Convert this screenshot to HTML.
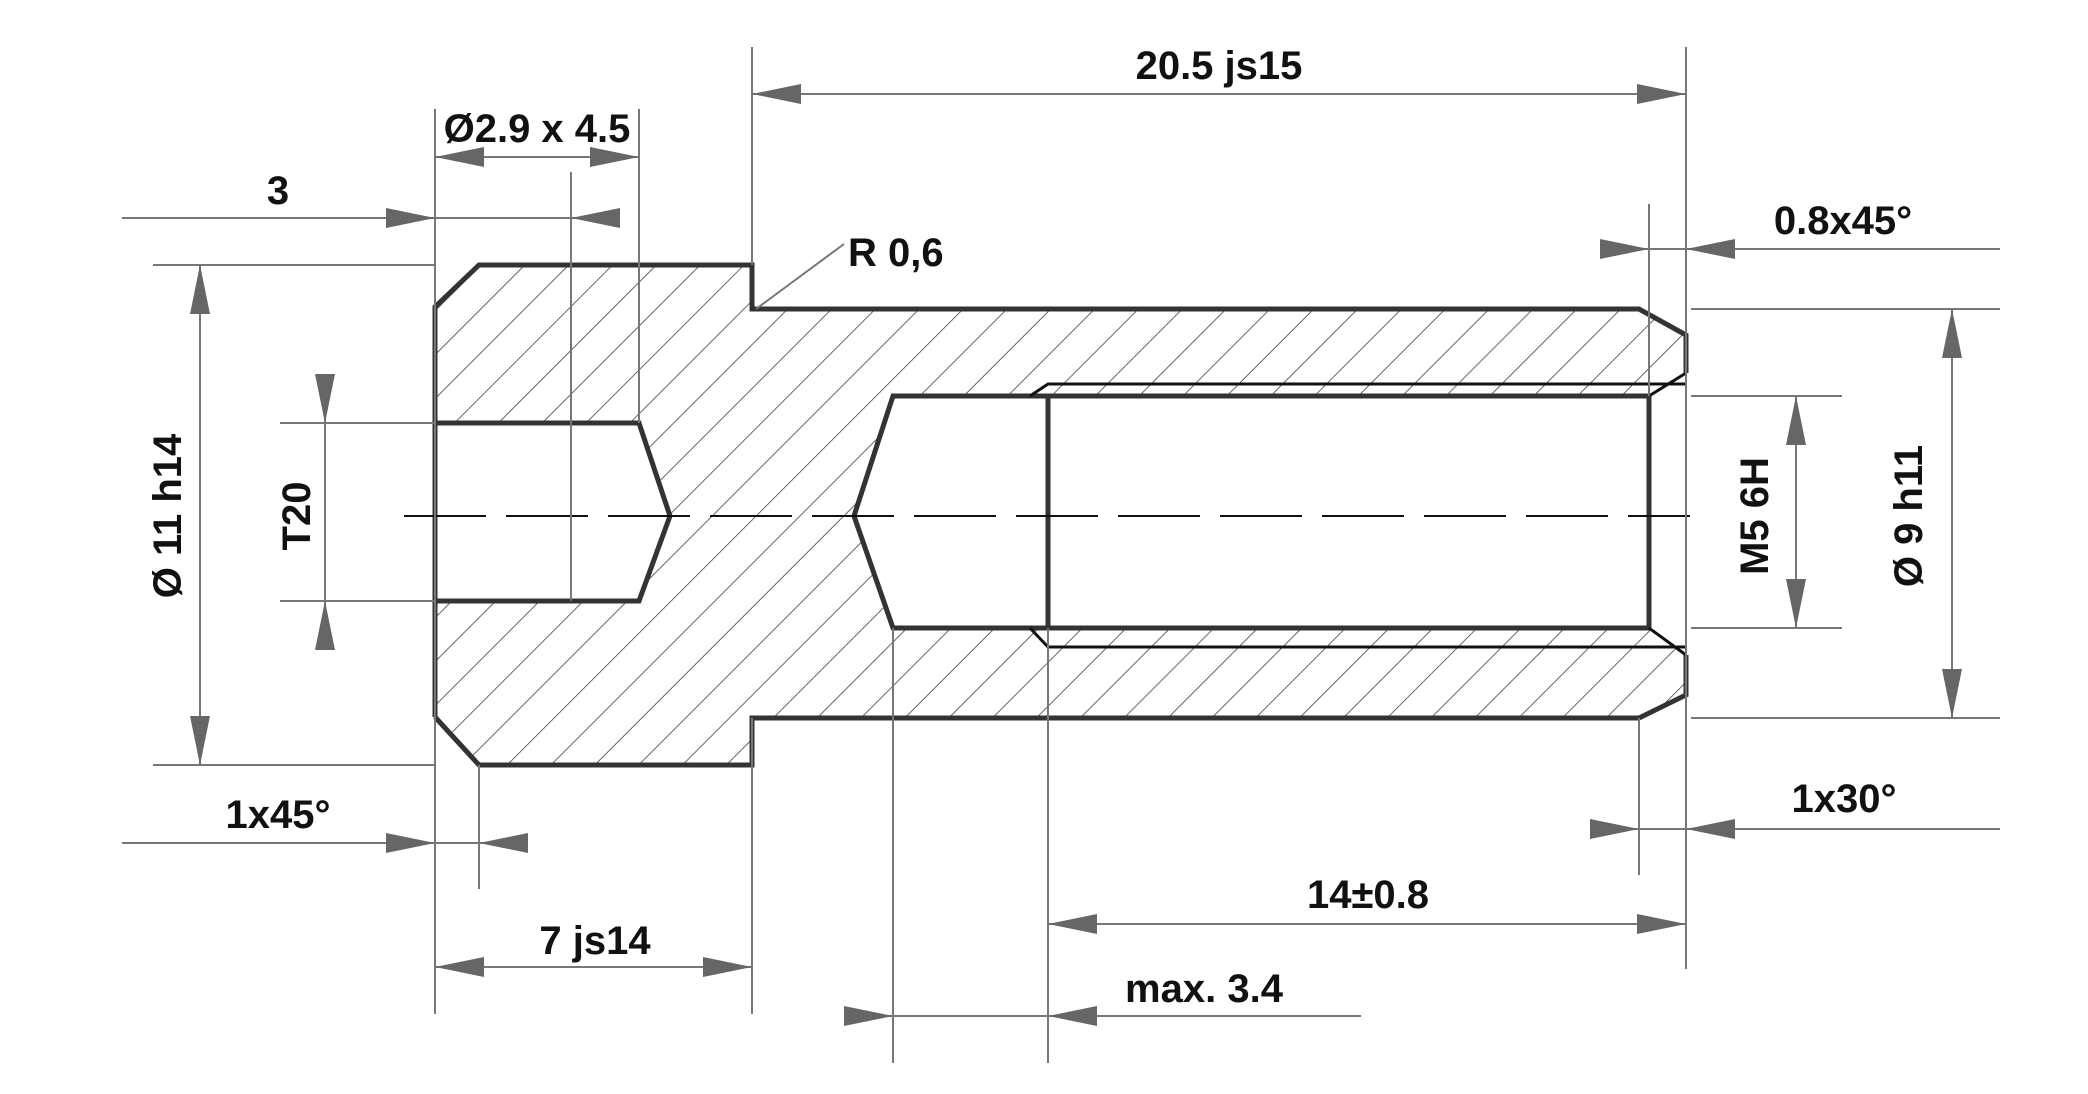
<!DOCTYPE html>
<html><head><meta charset="utf-8"><style>
html,body{margin:0;padding:0;background:#fff}
svg{display:block}
text{font-family:"Liberation Sans",Arial,sans-serif;font-weight:bold;font-size:40px;fill:#111}
</style></head><body>
<svg width="2088" height="1094" viewBox="0 0 2088 1094" xmlns="http://www.w3.org/2000/svg">
<defs>
<pattern id="h" patternUnits="userSpaceOnUse" width="31" height="31" patternTransform="rotate(45)">
<line x1="0" y1="0" x2="0" y2="31" stroke="#666" stroke-width="2"/>
</pattern>
<marker id="a" viewBox="0 0 49 20" refX="49" refY="10" markerWidth="49" markerHeight="20" markerUnits="userSpaceOnUse" orient="auto">
<path d="M0,0 L49,10 L0,20 z" fill="#666"/>
</marker>
</defs>

<path fill="url(#h)" fill-rule="evenodd" d="M435,307 L479,265 L752,265 L752,309 L1639,309 L1686,335 L1686,695 L1639,718 L752,718 L752,765 L479,765 L435,717 Z
M435,423 L639,423 L670,516 L639,601 L435,601 Z
M893,396 L1649,396 L1686,373 L1686,655 L1649,628 L893,628 L854,516 Z"/>

<g fill="none" stroke="#333" stroke-width="5" stroke-linejoin="miter">
<path d="M435,717 L435,307 L479,265 L752,265 L752,309 L1639,309 L1686,335 L1686,373"/>
<path d="M1686,655 L1686,695 L1639,718 L752,718 L752,765 L479,765 L435,717"/>
<path d="M435,423 L639,423 L670,516 L639,601 L435,601"/>
<path d="M1048,396 L893,396 L854,516 L893,628 L1649,628 L1649,396 L1048,396 L1048,628"/>
</g>
<g fill="none" stroke="#111" stroke-width="3">
<path d="M1030,396 L1048,384 L1686,384"/>
<path d="M1030,628 L1048,647 L1686,647"/>
<path d="M1649,396 L1686,373 M1649,628 L1686,655"/>
</g>
<line x1="404" y1="516" x2="1690" y2="516" stroke="#111" stroke-width="2" stroke-dasharray="82,20"/>

<g stroke="#777" stroke-width="2" fill="none">
<line x1="752" y1="47" x2="752" y2="265"/>
<line x1="1686" y1="47" x2="1686" y2="969"/>
<line x1="435" y1="109" x2="435" y2="1014"/>
<line x1="639" y1="109" x2="639" y2="423"/>
<line x1="571" y1="172" x2="571" y2="601"/>
<line x1="153" y1="265" x2="435" y2="265"/>
<line x1="153" y1="765" x2="435" y2="765"/>
<line x1="280" y1="423" x2="435" y2="423"/>
<line x1="280" y1="601" x2="435" y2="601"/>
<line x1="479" y1="765" x2="479" y2="889"/>
<line x1="752" y1="718" x2="752" y2="1014"/>
<line x1="893" y1="628" x2="893" y2="1063"/>
<line x1="1048" y1="628" x2="1048" y2="1063"/>
<line x1="1639" y1="718" x2="1639" y2="875"/>
<line x1="1649" y1="204" x2="1649" y2="396"/>
<line x1="1691" y1="309" x2="2000" y2="309"/>
<line x1="1691" y1="718" x2="2000" y2="718"/>
<line x1="1691" y1="396" x2="1842" y2="396"/>
<line x1="1691" y1="628" x2="1842" y2="628"/>
<line x1="756" y1="309" x2="844" y2="244"/>

<path d="M1220,94 L752,94" marker-end="url(#a)"/>
<path d="M1220,94 L1686,94" marker-end="url(#a)"/>
<path d="M537,157 L435,157" marker-end="url(#a)"/>
<path d="M537,157 L639,157" marker-end="url(#a)"/>
<path d="M122,218 L435,218" marker-end="url(#a)"/>
<path d="M619,218 L571,218" marker-end="url(#a)"/>
<line x1="435" y1="218" x2="571" y2="218"/>
<path d="M200,515 L200,265" marker-end="url(#a)"/>
<path d="M200,515 L200,765" marker-end="url(#a)"/>
<path d="M325,380 L325,423" marker-end="url(#a)"/>
<path d="M325,648 L325,601" marker-end="url(#a)"/>
<line x1="325" y1="423" x2="325" y2="601"/>
<path d="M122,843 L435,843" marker-end="url(#a)"/>
<path d="M527,843 L479,843" marker-end="url(#a)"/>
<line x1="435" y1="843" x2="479" y2="843"/>
<path d="M595,967 L435,967" marker-end="url(#a)"/>
<path d="M595,967 L752,967" marker-end="url(#a)"/>
<path d="M849,1016 L893,1016" marker-end="url(#a)"/>
<path d="M1361,1016 L1048,1016" marker-end="url(#a)"/>
<line x1="893" y1="1016" x2="1048" y2="1016"/>
<path d="M1366,924 L1048,924" marker-end="url(#a)"/>
<path d="M1366,924 L1686,924" marker-end="url(#a)"/>
<path d="M1591,829 L1639,829" marker-end="url(#a)"/>
<path d="M2000,829 L1686,829" marker-end="url(#a)"/>
<line x1="1639" y1="829" x2="1686" y2="829"/>
<path d="M1601,249 L1649,249" marker-end="url(#a)"/>
<path d="M2000,249 L1686,249" marker-end="url(#a)"/>
<line x1="1649" y1="249" x2="1686" y2="249"/>
<path d="M1952,513 L1952,309" marker-end="url(#a)"/>
<path d="M1952,513 L1952,718" marker-end="url(#a)"/>
<path d="M1796,512 L1796,396" marker-end="url(#a)"/>
<path d="M1796,512 L1796,628" marker-end="url(#a)"/>
</g>

<text x="1219" y="79" text-anchor="middle">20.5 js15</text>
<text x="537" y="142" text-anchor="middle">Ø2.9 x 4.5</text>
<text x="278" y="204" text-anchor="middle">3</text>
<text x="848" y="266">R 0,6</text>
<text x="1843" y="234" text-anchor="middle">0.8x45°</text>
<text x="278" y="828" text-anchor="middle">1x45°</text>
<text x="595" y="954" text-anchor="middle">7 js14</text>
<text x="1204" y="1002" text-anchor="middle">max. 3.4</text>
<text x="1368" y="908" text-anchor="middle">14±0.8</text>
<text x="1844" y="812" text-anchor="middle">1x30°</text>
<text transform="translate(181,516) rotate(-90)" text-anchor="middle">Ø 11 h14</text>
<text transform="translate(310,516) rotate(-90)" text-anchor="middle">T20</text>
<text transform="translate(1768,516) rotate(-90)" text-anchor="middle">M5 6H</text>
<text transform="translate(1922,516) rotate(-90)" text-anchor="middle">Ø 9 h11</text>
</svg>
</body></html>
